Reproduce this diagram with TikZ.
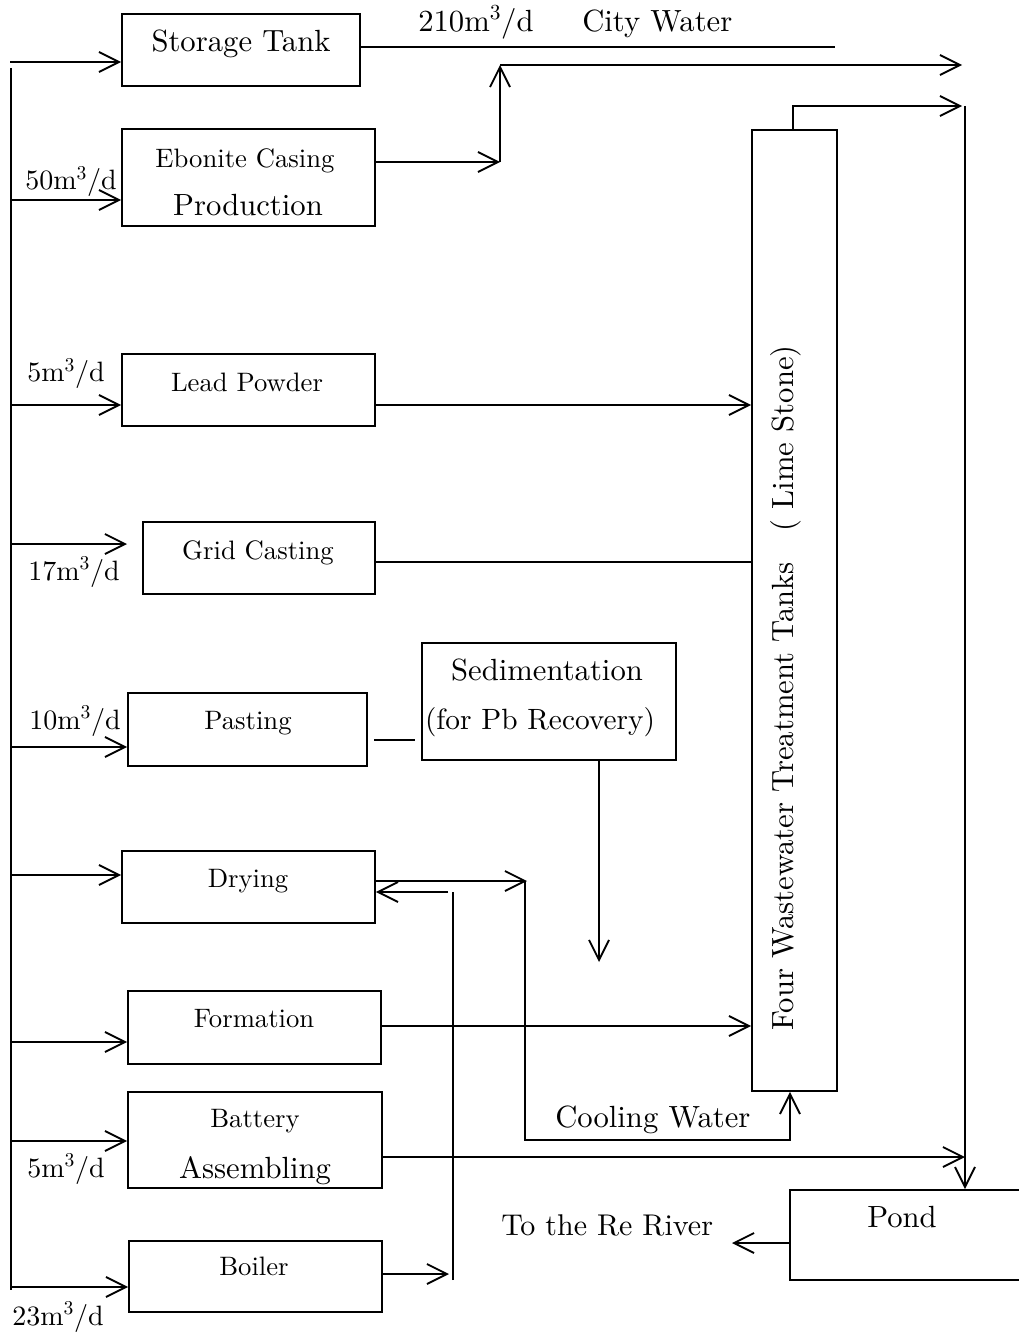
\documentclass[tikz,border=0pt]{standalone}
\usepackage{fontspec}
\setmainfont{lmroman10-regular}[Extension=.otf]
\usetikzlibrary{arrows.meta,fit}
\tikzset{
  flow/.style={line width=1.4pt},
  arr/.style={flow,-{Straight Barb[length=15pt,width=15pt]}},
  unitbox/.style={draw, line width=1.4pt, inner sep=0pt},
  big/.style={font=\fontsize{23}{27}\selectfont, inner sep=0pt, anchor=base},
  small/.style={font=\fontsize{20}{24}\selectfont, inner sep=0pt, anchor=base},
  rate/.style={font=\fontsize{21}{25}\selectfont, inner sep=0pt, anchor=base west},
}
\newcommand{\mcd}{m\textsuperscript{3}/d}
\begin{document}
\begin{tikzpicture}[x=0.75pt,y=-0.75pt]
\useasboundingbox (0,0) rectangle (1018,1333);

% process units
\node[unitbox, fit={(122,14) (360,86)}] (st) {};
\node[unitbox, fit={(122,129) (375,226)}] (eb) {};
\node[unitbox, fit={(122,354) (375,426)}] (lp) {};
\node[unitbox, fit={(143,522) (375,594)}] (gc) {};
\node[unitbox, fit={(128,693) (367,766)}] (ps) {};
\node[unitbox, fit={(422,643) (676,760)}] (sd) {};
\node[unitbox, fit={(122,851) (375,923)}] (dr) {};
\node[unitbox, fit={(128,991) (381,1064)}] (fm) {};
\node[unitbox, fit={(128,1092) (382,1188)}] (ba) {};
\node[unitbox, fit={(129,1241) (382,1312)}] (bo) {};
\node[unitbox, fit={(752,130) (837,1091)}] (tk) {};
\node[unitbox, fit={(790,1190) (1022,1280)}] (pd) {};

% unit labels
\node[big]   (tst) at (241,52)   {Storage Tank};
\node[small] (teb) at (245,168)  {Ebonite Casing};
\node[big]   (teb2) at (248,216) {Production};
\node[small] (tlp) at (247,391)  {Lead Powder};
\node[small] (tgc) at (258,559)  {Grid Casting};
\node[small] (tps) at (248,729)  {Pasting};
\node[big]   (tsd) at (547,680)  {Sedimentation};
\node[big, font=\fontsize{22}{26}\selectfont] (tsd2) at (540,729) {(for Pb Recovery)};
\node[small] (tdr) at (248,887)  {Drying};
\node[small] (tfm) at (254,1027) {Formation};
\node[small] (tba) at (255,1127) {Battery};
\node[big]   (tba2) at (255,1178) {Assembling};
\node[small] (tbo) at (254,1275) {Boiler};
\node[big]   (tpd) at (902,1227) {Pond};
\node[big, rotate=90] (ttk) at (793,688)
  {Four Wastewater Treatment Tanks\hspace{1em}( Lime Stone)};

% flow rates and other labels
\node[rate, font=\fontsize{23}{27}\selectfont] (q0) at (418,32) {210\mcd};
\node[big, anchor=base west] (tcw) at (582,32) {City Water};
\node[rate] (q1) at (25,190)  {50\mcd};
\node[rate] (q2) at (27,382)  {5\mcd};
\node[rate] (q3) at (28,580)  {17\mcd};
\node[rate] (q4) at (29,729)  {10\mcd};
\node[rate] (q5) at (27,1177) {5\mcd};
\node[rate] (q6) at (12,1325) {23\mcd};
\node[big, anchor=base west] (tcool) at (555,1127) {Cooling Water};
\node[big, anchor=base west, font=\fontsize{22.5}{26}\selectfont] (triv) at (501,1235) {To the Re River};

% supply trunk and feeds
\coordinate (tTop) at (11,68);
\coordinate (tBot) at (11,1290);
\coordinate (f1) at (10,62);
\coordinate (f2) at (10,200);
\coordinate (f3) at (10,405);
\coordinate (f4) at (10,544);
\coordinate (f4e) at (127,544);
\coordinate (f5) at (10,747);
\coordinate (f6) at (10,875);
\coordinate (f7) at (10,1042);
\coordinate (f8) at (10,1141);
\coordinate (f9) at (10,1287);
\draw[flow] (tTop) -- (tBot);
\draw[arr] (f1) -- (st.west |- f1);
\draw[arr] (f2) -- (eb.west |- f2);
\draw[arr] (f3) -- (lp.west |- f3);
\draw[arr] (f4) -- (f4e);
\draw[arr] (f5) -- (ps.west |- f5);
\draw[arr] (f6) -- (dr.west |- f6);
\draw[arr] (f7) -- (fm.west |- f7);
\draw[arr] (f8) -- (ba.west |- f8);
\draw[arr] (f9) -- (bo.west |- f9);

% city water line
\coordinate (cw) at (835,47);
\draw[flow] (st.east |- cw) -- (cw);

% ebonite casing discharge
\coordinate (e1) at (500,162);
\coordinate (e2) at (500,65);
\coordinate (e3) at (962,65);
\draw[arr] (eb.east |- e1) -- (e1);
\draw[arr] (e1) -- (e2);
\draw[arr] (e2) -- (e3);

% treated water outlet and line to pond
\coordinate (t1) at (793,106);
\coordinate (t2) at (962,106);
\coordinate (rv) at (965,106);
\draw[arr] (t1 |- tk.north) -- (t1) -- (t2);
\draw[arr] (rv) -- (rv |- pd.north);

% lines into the treatment tanks
\draw[arr] (lp.east |- f3) -- (tk.west |- f3);
\coordinate (gy) at (0,562);
\draw[flow] (gc.east |- gy) -- (tk.west |- gy);
\coordinate (fy) at (0,1026);
\draw[arr] (fm.east |- fy) -- (tk.west |- fy);

% pasting to sedimentation
\coordinate (p1) at (374,740);
\coordinate (p2) at (415,740);
\draw[flow] (p1) -- (p2);
\coordinate (s1) at (599,962);
\draw[arr] (s1 |- sd.south) -- (s1);

% drying and cooling water loop
\coordinate (d1) at (527,881);
\coordinate (c0) at (525,881);
\coordinate (c1) at (525,1140);
\coordinate (c2) at (790,1140);
\draw[arr] (dr.east |- d1) -- (d1);
\draw[arr] (c0) -- (c1) -- (c2) -- (c2 |- tk.south);

% boiler steam to drying
\coordinate (b1) at (453,1280);
\coordinate (b2) at (453,892);
\coordinate (b3) at (448,892);
\coordinate (b4) at (449,1274);
\draw[flow] (b1) -- (b2);
\draw[arr] (b3) -- (dr.east |- b3);
\draw[arr] (bo.east |- b4) -- (b4);

% battery assembling to pond line
\coordinate (by) at (0,1157);
\draw[arr] (ba.east |- by) -- (rv |- by);

% pond discharge
\coordinate (rivr) at (732,1243);
\draw[arr] (pd.west |- rivr) -- (rivr);
\end{tikzpicture}
\end{document}
